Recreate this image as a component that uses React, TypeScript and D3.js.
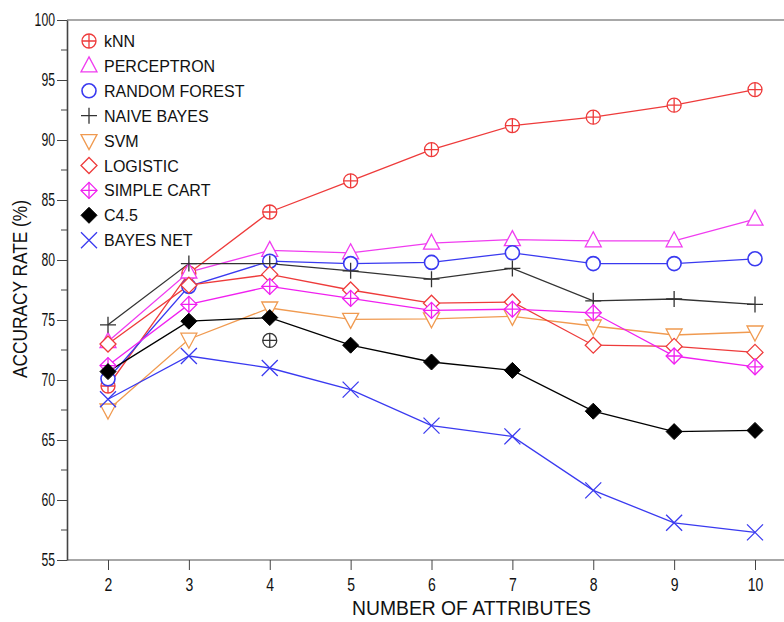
import React, { useEffect, useRef } from "react";
import * as d3 from "d3";

const attributes = [2, 3, 4, 5, 6, 7, 8, 9, 10];

const knn = [69.5, 78.9, 84.0, 86.6, 89.2, 91.2, 91.9, 92.9, 94.2];
const perceptron = [73.2, 79.0, 80.8, 80.6, 81.4, 81.7, 81.6, 81.6, 83.4];
const randomForest = [70.1, 77.8, 79.9, 79.7, 79.8, 80.6, 79.7, 79.7, 80.1];
const naiveBayes = [74.6, 79.7, 79.7, 79.1, 78.4, 79.3, 76.6, 76.75, 76.3];
const svm = [67.5, 73.4, 76.0, 75.05, 75.1, 75.3, 74.5, 73.75, 74.0];
const logistic = [73.0, 77.9, 78.8, 77.5, 76.4, 76.5, 72.9, 72.8, 72.3];
const simpleCart = [71.2, 76.3, 77.8, 76.8, 75.8, 75.9, 75.6, 72.0, 71.1];
const c45 = [70.7, 74.9, 75.2, 72.9, 71.5, 70.8, 67.4, 65.7, 65.8];
const bayesNet = [68.4, 72.0, 71.0, 69.2, 66.2, 65.3, 60.8, 58.1, 57.3];

// stray marker at 4 attributes
const strayPoint = { x: 4, y: 73.3 };

const yTicks = [55, 60, 65, 70, 75, 80, 85, 90, 95, 100];

const series = [
  { name: "kNN", values: knn, color: "#ee3b3b", marker: "circlePlus" },
  { name: "PERCEPTRON", values: perceptron, color: "#f03cf0", marker: "triangleUp" },
  { name: "RANDOM FOREST", values: randomForest, color: "#3a3af0", marker: "circle" },
  { name: "NAIVE BAYES", values: naiveBayes, color: "#333333", marker: "plus" },
  { name: "SVM", values: svm, color: "#f09a50", marker: "triangleDown" },
  { name: "LOGISTIC", values: logistic, color: "#ee3b3b", marker: "diamond" },
  { name: "SIMPLE CART", values: simpleCart, color: "#f020f0", marker: "diamondPlus" },
  { name: "C4.5", values: c45, color: "#000000", marker: "diamondFilled" },
  { name: "BAYES NET", values: bayesNet, color: "#3a3af0", marker: "cross" },
];

function drawMarker(g, type, x, y, color) {
  const s = g.append("g").attr("transform", `translate(${x},${y})`);
  const sw = 1.3;
  if (type === "circlePlus") {
    s.append("circle").attr("r", 7).attr("fill", "white").attr("stroke", color).attr("stroke-width", sw);
    s.append("path").attr("d", "M-7,0H7M0,-7V7").attr("stroke", color).attr("stroke-width", sw);
  } else if (type === "circle") {
    s.append("circle").attr("r", 7).attr("fill", "white").attr("stroke", color).attr("stroke-width", sw + 0.3);
  } else if (type === "triangleUp") {
    s.append("path").attr("d", "M0,-9L8,6H-8Z").attr("fill", "white").attr("stroke", color).attr("stroke-width", sw);
  } else if (type === "triangleDown") {
    s.append("path").attr("d", "M0,9L8,-6H-8Z").attr("fill", "white").attr("stroke", color).attr("stroke-width", sw);
  } else if (type === "plus") {
    s.append("path").attr("d", "M-8,0H8M0,-8V8").attr("stroke", color).attr("stroke-width", sw);
  } else if (type === "cross") {
    s.append("path").attr("d", "M-8,-8L8,8M-8,8L8,-8").attr("stroke", color).attr("stroke-width", sw);
  } else if (type === "diamond") {
    s.append("path").attr("d", "M0,-8L8,0L0,8L-8,0Z").attr("fill", "white").attr("stroke", color).attr("stroke-width", sw);
  } else if (type === "diamondPlus") {
    s.append("path").attr("d", "M0,-8L8,0L0,8L-8,0Z").attr("fill", "white").attr("stroke", color).attr("stroke-width", sw);
    s.append("path").attr("d", "M-8,0H8M0,-8V8").attr("stroke", color).attr("stroke-width", sw);
  } else if (type === "diamondFilled") {
    s.append("path").attr("d", "M0,-8L8,0L0,8L-8,0Z").attr("fill", color).attr("stroke", color).attr("stroke-width", 1);
  }
}

export default function App() {
  const svgRef = useRef(null);

  useEffect(() => {
    const width = 784;
    const font = "'Liberation Sans', Arial, sans-serif";

    const svg = d3.select(svgRef.current);
    svg.selectAll("*").remove();

    const xScale = d3.scaleLinear().domain([2, 10]).range([108, 755]);
    const yScale = d3.scaleLinear().domain([55, 100]).range([560, 20]);

    const axisLeft = 67;

    // frame lines
    svg.append("line").attr("x1", axisLeft).attr("x2", width).attr("y1", 20).attr("y2", 20)
      .attr("stroke", "#a8a8a8").attr("stroke-width", 2.2);
    svg.append("line").attr("x1", axisLeft).attr("x2", width).attr("y1", yScale(55)).attr("y2", yScale(55))
      .attr("stroke", "#8a8a8a").attr("stroke-width", 1.6);

    // y axis
    const yAxis = d3.axisLeft(yScale).tickValues(yTicks).tickSize(10).tickSizeOuter(0).tickPadding(2);
    const yG = svg.append("g").attr("transform", `translate(${axisLeft},0)`).call(yAxis);
    yG.select(".domain").attr("stroke", "#444").attr("stroke-width", 1.6);
    yG.selectAll(".tick line").attr("stroke", "#444").attr("stroke-width", 1);
    yG.selectAll(".tick text")
      .attr("font-family", font).attr("font-size", 18).attr("fill", "#111")
      .attr("textLength", (d) => String(d).length * 6.8)
      .attr("lengthAdjust", "spacingAndGlyphs");

    const minor = d3.range(57.5, 100, 5);
    svg.append("g").selectAll("line").data(minor).enter().append("line")
      .attr("x1", axisLeft - 6).attr("x2", axisLeft)
      .attr("y1", (d) => yScale(d)).attr("y2", (d) => yScale(d))
      .attr("stroke", "#444").attr("stroke-width", 1);

    // x axis
    const xAxis = d3.axisBottom(xScale).tickValues(attributes).tickSize(10).tickSizeOuter(0).tickPadding(8);
    const xG = svg.append("g").attr("transform", `translate(0,${yScale(55)})`).call(xAxis);
    xG.select(".domain").remove();
    xG.selectAll(".tick line").attr("stroke", "#444").attr("stroke-width", 1);
    xG.selectAll(".tick text")
      .attr("font-family", font).attr("font-size", 18).attr("fill", "#111")
      .attr("textLength", (d) => String(d).length * 7.8)
      .attr("lengthAdjust", "spacingAndGlyphs");

    // axis titles
    svg.append("text")
      .attr("x", 352).attr("y", 615)
      .attr("font-family", font).attr("font-size", 20).attr("fill", "#111")
      .attr("textLength", 239).attr("lengthAdjust", "spacingAndGlyphs")
      .text("NUMBER OF ATTRIBUTES");

    svg.append("text")
      .attr("transform", `translate(27,378) rotate(-90)`)
      .attr("font-family", font).attr("font-size", 20).attr("fill", "#111")
      .attr("textLength", 178).attr("lengthAdjust", "spacingAndGlyphs")
      .text("ACCURACY RATE (%)");

    // lines
    const line = d3.line()
      .x((d, i) => xScale(attributes[i]))
      .y((d) => yScale(d));

    series.forEach((s) => {
      svg.append("path")
        .datum(s.values)
        .attr("fill", "none")
        .attr("stroke", s.color)
        .attr("stroke-width", 1.3)
        .attr("d", line);
    });

    series.forEach((s) => {
      const g = svg.append("g");
      s.values.forEach((v, i) => drawMarker(g, s.marker, xScale(attributes[i]), yScale(v), s.color));
    });

    drawMarker(svg.append("g"), "circlePlus", xScale(strayPoint.x), yScale(strayPoint.y), "#333333");

    // legend
    const legend = svg.append("g");
    series.forEach((s, i) => {
      const y = 41 + i * 24.9;
      drawMarker(legend, s.marker, 89, y, s.color);
      legend.append("text")
        .attr("x", 104).attr("y", y + 6)
        .attr("font-family", font)
        .attr("font-size", 16).attr("fill", "#111")
        .text(s.name);
    });
  }, []);

  return (
    <div style={{ position: "absolute", left: 0, top: 0 }}>
      <svg ref={svgRef} width={784} height={622} style={{ display: "block", background: "white" }}></svg>
    </div>
  );
}
